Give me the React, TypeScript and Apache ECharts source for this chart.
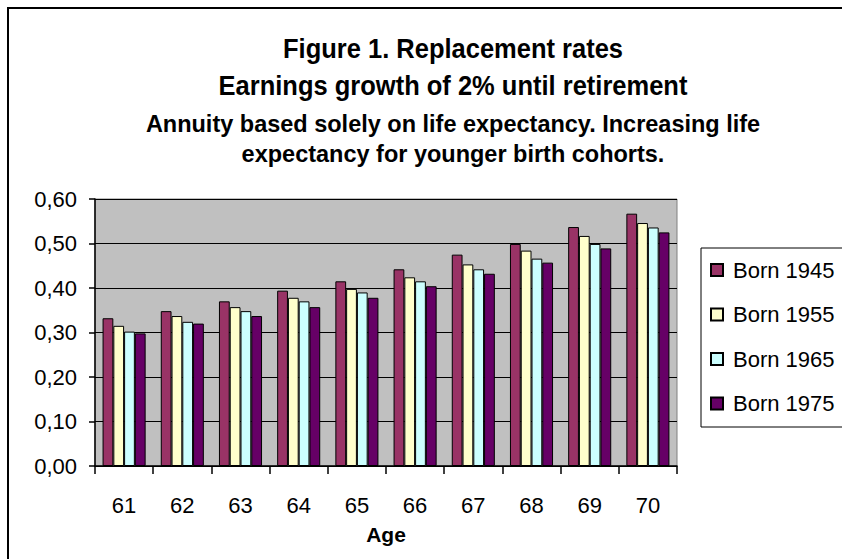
import React, { useEffect, useRef } from "react";
import * as echarts from "echarts";

const categories = ["61", "62", "63", "64", "65", "66", "67", "68", "69", "70"];
const born1945 = [0.332, 0.348, 0.370, 0.394, 0.415, 0.442, 0.475, 0.499, 0.537, 0.567];
const born1955 = [0.315, 0.337, 0.357, 0.378, 0.398, 0.424, 0.453, 0.484, 0.517, 0.546];
const born1965 = [0.302, 0.324, 0.348, 0.370, 0.390, 0.415, 0.442, 0.466, 0.499, 0.536];
const born1975 = [0.298, 0.320, 0.337, 0.357, 0.378, 0.404, 0.432, 0.457, 0.489, 0.525];
const seriesNames = ["Born 1945", "Born 1955", "Born 1965", "Born 1975"];
const seriesColors = ["#993366", "#FFFFCC", "#CCFFFF", "#660066"];
const titleLines = [
  "Figure 1. Replacement rates",
  "Earnings growth of 2% until retirement",
  "Annuity based solely on life expectancy. Increasing life",
  "expectancy for younger birth cohorts.",
];

const FONT = "'Liberation Sans', Arial, Helvetica, sans-serif";

export default function App() {
  const ref = useRef<HTMLDivElement>(null);
  useEffect(() => {
    if (!ref.current) return;
    const chart = echarts.init(ref.current, undefined, { renderer: "svg" });
    const values = [born1945, born1955, born1965, born1975];
    const titleText = (i: number, y: number, size: number, sy: number) => ({
      type: "text",
      x: 453,
      y,
      scaleY: sy,
      style: {
        text: titleLines[i],
        font: `bold ${size}px ${FONT}`,
        fill: "#000",
        textAlign: "center",
        textVerticalAlign: "middle",
      },
    });
    chart.setOption({
      animation: false,
      backgroundColor: "#ffffff",
      textStyle: { fontFamily: FONT },
      graphic: [
        {
          type: "rect",
          shape: { x: 8, y: 8, width: 900, height: 600 },
          style: { fill: "none", stroke: "#000", lineWidth: 2 },
          z: 0,
        },
        {
          type: "rect",
          shape: { x: 701, y: 248, width: 200, height: 179 },
          style: { fill: "#fff", stroke: "#000", lineWidth: 1 },
          z: 0,
        },
        titleText(0, 48, 25.5, 1.12),
        titleText(1, 85, 25.5, 1.12),
        titleText(2, 123, 23.5, 1.05),
        titleText(3, 153, 23.5, 1.05),
      ],
      grid: {
        left: 95,
        top: 199,
        right: 165,
        bottom: 93,
        show: true,
        backgroundColor: "#C0C0C0",
        borderColor: "#808080",
        borderWidth: 1,
      },
      legend: {
        orient: "vertical",
        left: 705,
        top: 254,
        itemWidth: 12,
        itemHeight: 12,
        itemGap: 22.5,
        icon: "rect",
        data: seriesNames,
        textStyle: { fontSize: 22, fontFamily: FONT, color: "#000", lineHeight: 22, padding: [0, 0, 0, 5] },
      },
      xAxis: {
        type: "category",
        data: categories,
        name: "Age",
        nameLocation: "middle",
        nameGap: 58,
        nameTextStyle: { fontSize: 21, fontWeight: "bold", color: "#000", fontFamily: FONT },
        axisLine: { lineStyle: { color: "#000", width: 1.5 } },
        axisTick: { show: true, length: 8, lineStyle: { color: "#000", width: 1.5 } },
        axisLabel: { fontSize: 22, color: "#000", margin: 28, fontFamily: FONT },
      },
      yAxis: {
        type: "value",
        min: 0,
        max: 0.6,
        interval: 0.1,
        axisLine: { show: true, lineStyle: { color: "#000", width: 1.5 } },
        axisTick: { show: true, length: 6, lineStyle: { color: "#000", width: 1.5 } },
        axisLabel: {
          fontSize: 22,
          color: "#000",
          margin: 18,
          fontFamily: FONT,
          formatter: (v: number) => v.toFixed(2).replace(".", ","),
        },
        splitLine: { show: true, lineStyle: { color: "#000", width: 1 } },
      },
      series: seriesNames.map((name, i) => ({
        name,
        type: "bar",
        data: values[i],
        barGap: "0%",
        barCategoryGap: "26%",
        itemStyle: { color: seriesColors[i], borderColor: "#000", borderWidth: 1 },
      })),
    });
    return () => chart.dispose();
  }, []);
  return (
    <div
      ref={ref}
      style={{ position: "fixed", left: 0, top: 0, width: 842, height: 559 }}
    />
  );
}
